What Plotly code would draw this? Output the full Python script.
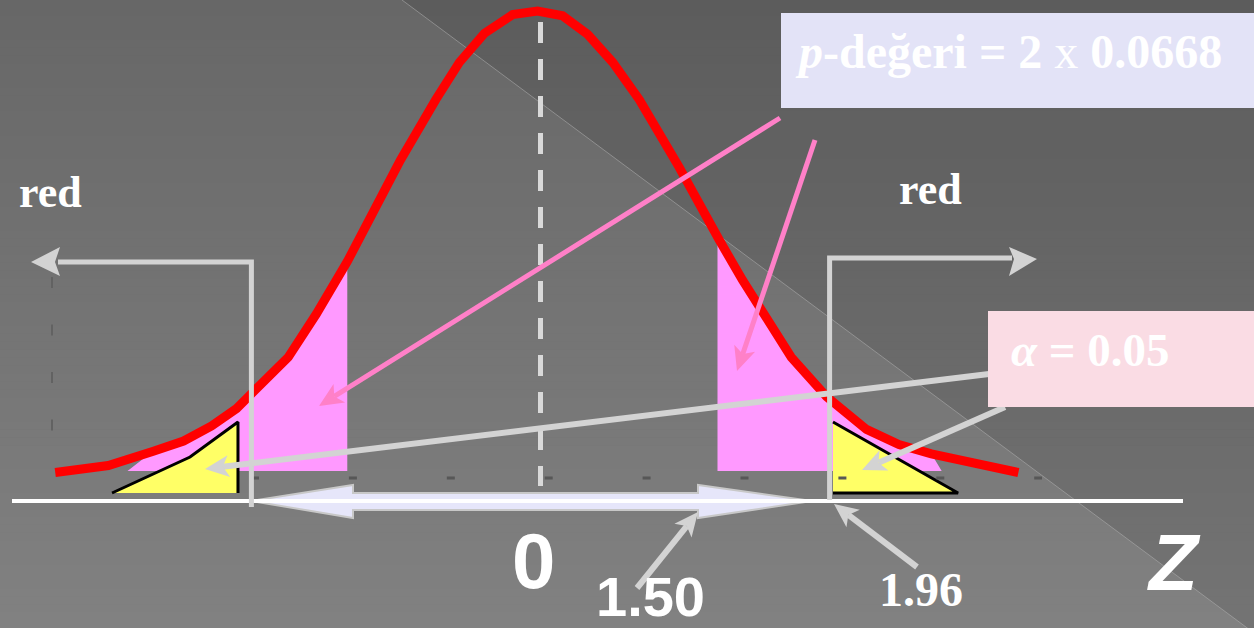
import math
import plotly.graph_objects as go

W, H = 1254, 628

# ---------------- data (z, density) ----------------
curve_z = [-3.29, -2.93, -2.63, -2.42, -2.23, -2.06, -1.71, -1.52, -1.31, -0.95, -0.71,
           -0.55, -0.38, -0.19, -0.02, 0.15, 0.32, 0.49, 0.67, 0.94, 1.21, 1.37, 1.70,
           1.94, 2.21, 2.43, 2.65, 2.89, 3.24]
curve_d = [0.003, 0.009, 0.021, 0.030, 0.043, 0.058, 0.102, 0.139, 0.184, 0.271, 0.323,
           0.355, 0.380, 0.396, 0.399, 0.395, 0.379, 0.355, 0.323, 0.265, 0.203, 0.168,
           0.102, 0.068, 0.040, 0.027, 0.019, 0.012, 0.003]

pink_left_z = [-2.80, -2.63, -2.42, -2.23, -2.06, -1.71, -1.52, -1.31, -1.31]
pink_left_d = [0.0043, 0.021, 0.030, 0.043, 0.058, 0.102, 0.139, 0.180, 0.0043]
pink_right_z = [1.20, 1.20, 1.37, 1.70, 1.94, 2.21, 2.43, 2.65, 2.72]
pink_right_d = [0.0043, 0.199, 0.168, 0.102, 0.068, 0.040, 0.027, 0.019, 0.0043]

yellow_left_z = [-2.905, -2.376, -2.051, -2.051]
yellow_left_d = [-0.0146, 0.0163, 0.0464, -0.0146]
yellow_right_z = [1.983, 2.831, 1.983]
yellow_right_d = [0.0464, -0.0146, -0.0146]

center_z = [0.0, 0.0]
center_d = [0.3897, -0.0086]

critical = [-1.96, 1.96]
bracket_top_d = [0.1837, 0.1871]
bracket_bot_d = [-0.0266, -0.0206]
z_stat = 1.50
alpha = 0.05
p_half = 0.0668

# ---------------- scale (z/density -> pixel) ----------------
X0, SX = 540.5, 147.5
Y0, SY = 476.0, 1165.0


def PX(z):
    return X0 + SX * z


def PY(d):
    return Y0 - SY * d


def fx(px):
    return px / W


def fy(py):
    return 1 - py / H


fig = go.Figure()

fig.add_trace(go.Scatter(x=pink_left_z, y=pink_left_d, fill="toself", mode="none",
                         fillcolor="#FF99FF"))
fig.add_trace(go.Scatter(x=pink_right_z, y=pink_right_d, fill="toself", mode="none",
                         fillcolor="#FF99FF"))
fig.add_trace(go.Scatter(x=center_z, y=center_d, mode="lines",
                         line=dict(color="#D9D9D9", width=5, dash="21px,16px")))
fig.add_trace(go.Scatter(x=curve_z, y=curve_d, mode="lines",
                         line=dict(color="#FF0000", width=9)))
fig.add_trace(go.Scatter(x=yellow_left_z, y=yellow_left_d, fill="toself", mode="lines",
                         fillcolor="#FFFF66", line=dict(color="black", width=3)))
fig.add_trace(go.Scatter(x=yellow_right_z, y=yellow_right_d, fill="toself", mode="lines",
                         fillcolor="#FFFF66", line=dict(color="black", width=3)))

shapes = []

# background vertical gradient
N = 79
for i in range(N):
    t = i / (N - 1)
    c = int(round(103 + (129 - 103) * t))
    shapes.append(dict(type="rect", xref="paper", yref="paper", x0=0, x1=1,
                       y0=fy(i * H / N), y1=fy((i + 1) * H / N + 0.6),
                       fillcolor=f"rgb({c},{c},{c})", line=dict(width=0), layer="below"))
# darker top-right triangle
shapes.append(dict(type="path", xref="paper", yref="paper", layer="below",
                   path=f"M {fx(402)},{fy(0)} L {fx(1254)},{fy(0)} L {fx(1254)},{fy(633)} Z",
                   fillcolor="rgba(0,0,0,0.10)", line=dict(width=0)))
shapes.append(dict(type="line", xref="paper", yref="paper", layer="below",
                   x0=fx(402), y0=fy(0), x1=fx(1254), y1=fy(633),
                   line=dict(color="rgba(175,175,175,0.55)", width=1)))


def poly(pts, fill, lc=None, lw=0):
    p = "M " + " L ".join(f"{fx(x)},{fy(y)}" for x, y in pts) + " Z"
    return dict(type="path", xref="paper", yref="paper", layer="above", path=p,
                fillcolor=fill, line=dict(color=lc or fill, width=lw))


def seg(x0, y0, x1, y1, color, w, dash=None):
    ln = dict(color=color, width=w)
    if dash:
        ln["dash"] = dash
    return dict(type="line", xref="paper", yref="paper", layer="above",
                x0=fx(x0), y0=fy(y0), x1=fx(x1), y1=fy(y1), line=ln)


def arrow(x0, y0, x1, y1, color, w, hl=24, hw=11, notch=6):
    dx, dy = x1 - x0, y1 - y0
    L = math.hypot(dx, dy)
    ux, uy = dx / L, dy / L
    nx, ny = -uy, ux
    bx, by = x1 - ux * hl, y1 - uy * hl
    mx, my = x1 - ux * (hl - notch), y1 - uy * (hl - notch)
    return [seg(x0, y0, mx, my, color, w),
            poly([(x1, y1), (bx + nx * hw, by + ny * hw), (mx, my),
                  (bx - nx * hw, by - ny * hw)], color)]


# faint inner axes (dashed)
shapes.append(seg(251, 478, 1042, 478, "#575757", 3, dash="8px,89.9px"))
shapes.append(seg(52, 277, 52, 440, "#626262", 2, dash="11px,36.5px"))

# double-headed arrow between the critical line and the statistic
xa, xb = PX(critical[0]), 812
shapes.append(poly([(xa, 501), (353, 485), (353, 493), (698, 493), (698, 485), (xb, 501),
                    (698, 518), (698, 510), (353, 510), (353, 518)],
                   "#E6E6FA", "#C8C8C8", 2))
# white z axis
shapes.append(seg(12, 501, 1183, 501, "white", 4))

# brackets at the critical values
gray = "#D3D3D3"
xl, xr = PX(critical[0]), PX(critical[1])
shapes.append(dict(type="path", xref="paper", yref="paper", layer="above",
                   path=f"M {fx(xl)},{fy(PY(bracket_bot_d[0]))} L {fx(xl)},{fy(PY(bracket_top_d[0]))} L {fx(58)},{fy(PY(bracket_top_d[0]))}",
                   line=dict(color=gray, width=5)))
shapes.append(poly([(31, 262), (60, 247), (55, 262), (60, 276)], gray))
shapes.append(dict(type="path", xref="paper", yref="paper", layer="above",
                   path=f"M {fx(xr)},{fy(PY(bracket_bot_d[1]))} L {fx(xr)},{fy(PY(bracket_top_d[1]))} L {fx(1012)},{fy(PY(bracket_top_d[1]))}",
                   line=dict(color=gray, width=5)))
shapes.append(poly([(1037, 259), (1009, 247), (1014, 259), (1009, 276)], gray))

# gray pointer arrows
shapes += arrow(989, 374, 205, 469, gray, 6)
shapes += arrow(1005, 407, 862, 470, gray, 6)
shapes += arrow(917, 567, 834, 504, gray, 6)
shapes += arrow(637, 588, 698, 512, gray, 6)

# pink pointer arrows
pink = "#FF80C8"
shapes += arrow(780, 118, 319, 406, pink, 5)
shapes += arrow(815, 140, 737, 371, pink, 5)

# boxes
shapes.append(dict(type="rect", xref="paper", yref="paper", layer="above",
                   x0=fx(781), x1=1, y0=fy(108), y1=fy(13), fillcolor="#E3E3F7",
                   line=dict(width=0)))
shapes.append(dict(type="rect", xref="paper", yref="paper", layer="above",
                   x0=fx(988), x1=1, y0=fy(407), y1=fy(311), fillcolor="#FADCE4",
                   line=dict(width=0)))

annotations = []


def txt(s, x, base, size, family, anchor="center", italic=False):
    annotations.append(dict(text=s, xref="paper", yref="paper", x=fx(x),
                            y=fy(base - 0.34 * size), xanchor=anchor, yanchor="middle",
                            showarrow=False,
                            font=dict(family=family, size=size, color="white",
                                      weight="bold", style="italic" if italic else "normal")))


serif = "Liberation Serif"
sans = "Liberation Sans"
txt("red", 51, 207, 44, serif)
txt("red", 930, 204, 44, serif)
txt(f"<i>p</i>-değeri = 2 <span style='font-weight:normal'>x</span> {p_half:.4f}",
    793, 68, 48, serif, anchor="left")
txt(f"<i>α</i> = {alpha:.2f}", 1009, 366, 47, serif, anchor="left")
txt("0", 533, 588, 78, sans)
txt(f"{z_stat:.2f}", 650, 616, 56, sans)
txt(f"{critical[1]:.2f}", 921, 606, 48, serif)
txt("Z", 1174, 590, 80, sans, italic=True)

fig.update_layout(
    width=W, height=H, margin=dict(l=0, r=0, t=0, b=0),
    paper_bgcolor="#707070", plot_bgcolor="rgba(0,0,0,0)",
    showlegend=False, hovermode=False,
    xaxis=dict(visible=False, range=[-X0 / SX, (W - X0) / SX], fixedrange=True),
    yaxis=dict(visible=False, range=[(Y0 - H) / SY, Y0 / SY], fixedrange=True),
    shapes=shapes, annotations=annotations,
)

fig.write_html("out.html", config={"displayModeBar": False},
               post_script="document.body.style.margin='0';")
